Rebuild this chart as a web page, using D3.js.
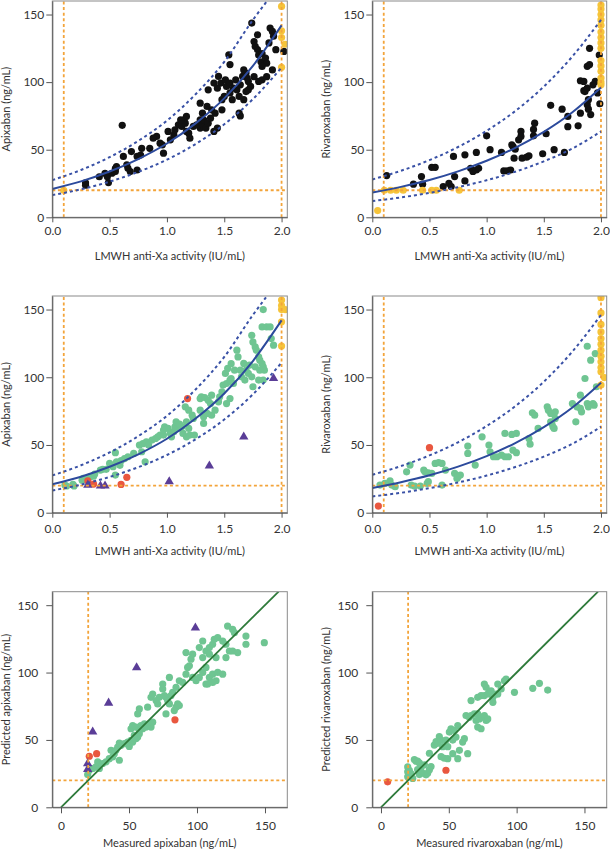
<!DOCTYPE html>
<html><head><meta charset="utf-8">
<script src="https://cdn.jsdelivr.net/npm/d3@7"></script>
<style>body{margin:0;background:#fff}svg{display:block}text{font-family:Lato,'Noto Sans',sans-serif;fill:#333}</style>
</head><body><svg id="c" width="610" height="853"></svg>
<script>
// ---------- DATA ----------
const lmwhTicks = [0, 0.5, 1.0, 1.5, 2.0];
const concTicks = [0, 50, 100, 150];
const thresholdConc = 20;        // ng/mL horizontal dashed line
const lmwhLimits = [0.1, 2.0];   // IU/mL vertical dashed lines

// fitted curves
const fitX = [0, 0.25, 0.5, 0.75, 1.0, 1.25, 1.5, 1.75, 2.0];
const apixFit = [21, 26.6, 33.9, 43.1, 54.6, 69.5, 88, 112, 142];
const apixUpperX = [0, 0.25, 0.5, 0.75, 1.0, 1.25, 1.5, 1.75, 1.9];
const apixUpper = [27.5, 35, 44.5, 56.5, 71.5, 91, 115, 146, 163];
const apixLower = [16.4, 20.7, 26.4, 33.6, 42.6, 54.2, 68.8, 87.4, 110.8];
const rivaFit = [18.3, 22.5, 27.6, 34.0, 41.8, 51.4, 63.2, 77.7, 96];
const rivaUpper = [28, 34.4, 42.3, 52, 64, 78.6, 96.7, 119, 146];
const rivaLower = [12, 14.7, 18.1, 22.3, 27.4, 33.7, 41.4, 50.9, 63.5];

// Panel A: apixaban vs LMWH anti-Xa (derivation)
const apixDerivPts = [[0.29,25.4],[0.29,23.7],[0.41,30],[0.46,32.6],[0.48,30],[0.49,25.7],[0.52,32.6],[0.55,36],[0.56,37.5],[0.55,33.8],[0.61,68],[0.62,45],[0.65,38.8],[0.66,36.3],[0.68,33.8],[0.74,35],[0.69,48.6],[0.74,45],[0.78,51],[0.77,46],[0.85,51],[0.91,59.8],[0.94,54.8],[0.88,58.5],[0.97,47.4],[0.96,53.6],[1.01,63.5],[1.03,57.3],[1.06,61],[1.07,64.7],[1.10,68.4],[1.13,67.2],[1.15,72],[1.16,69.6],[1.17,63.5],[1.19,62.2],[1.20,58.5],[1.23,67.2],[1.26,68.4],[1.29,66],[1.29,72],[1.31,68.4],[1.29,84.4],[1.31,77],[1.32,72],[1.34,66],[1.36,69.6],[1.38,73.3],[1.41,63.5],[1.42,77],[1.44,66],[1.36,94.3],[1.41,99.3],[1.44,95.5],[1.47,99.3],[1.48,87],[1.48,79.5],[1.50,89.4],[1.51,101.7],[1.52,96.8],[1.55,99.3],[1.55,92],[1.57,87],[1.58,95.5],[1.54,120.2],[1.60,101.7],[1.61,94.3],[1.63,89.4],[1.64,98],[1.66,104.2],[1.67,87],[1.69,93],[1.63,77],[1.64,75],[1.67,109],[1.69,106.7],[1.70,103],[1.71,100.5],[1.73,96.8],[1.71,94.3],[1.74,143.7],[1.76,130],[1.77,126.4],[1.79,124],[1.80,120],[1.82,115],[1.79,135],[1.83,121],[1.86,117.8],[1.87,114],[1.89,129],[1.90,140],[1.92,137.5],[1.93,134],[1.92,109],[1.95,124],[2.02,122.7],[1.83,101.7],[1.87,104],[1.83,111.6],[1.76,104],[1.80,100.5],[1.35,82],[1.39,79.5],[1.17,74.6],[1.12,72],[1.45,104.2],[1.55,113]];
const apixDerivCensored = [[2.0,156],[2.0,138],[2.0,133],[2.03,128],[2.0,111],[0.1,20]];

// Panel B: rivaroxaban vs LMWH anti-Xa (derivation)
const rivaDerivPts = [[0.126,30.9],[0.36,24.5],[0.43,30.1],[0.44,24.5],[0.52,37],[0.55,37],[0.62,22.7],[0.67,25.2],[0.69,22.7],[0.71,45],[0.72,30.1],[0.81,46.2],[0.81,26.9],[0.86,36.3],[0.88,33.9],[0.91,35],[0.93,36.3],[0.91,48],[1.0,60.3],[1.03,50],[1.13,48],[1.15,34.3],[1.18,34.3],[1.21,35],[1.22,53.6],[1.23,52.4],[1.24,43.7],[1.25,50.4],[1.28,57.3],[1.30,63.5],[1.30,59.8],[1.31,43.7],[1.35,44.5],[1.37,45.5],[1.41,65],[1.42,69.6],[1.41,60.3],[1.49,47],[1.56,82.8],[1.52,61.8],[1.59,50],[1.66,80],[1.68,48],[1.71,67],[1.71,74.6],[1.80,67.7],[1.82,77],[1.82,101],[1.85,100.5],[1.86,93],[1.85,93.7],[1.88,95.6],[1.88,111.7],[1.90,113],[1.90,125],[1.88,83.3],[1.89,80],[1.89,87],[1.91,76],[1.93,98],[1.95,100.5],[1.97,92],[1.985,120],[1.99,84]];
const rivaDerivCensored = [[0.047,5],[0.105,20],[0.16,20],[0.21,20],[0.27,20],[0.44,20],[0.52,20],[0.56,20],[0.76,20],[2.0,157],[2.0,154],[2.0,150],[2.0,146],[2.0,142],[2.0,137],[2.0,133],[2.0,129],[2.0,125],[2.0,116],[2.0,112],[2.0,108],[2.0,103],[2.0,100],[2.0,98]];

// Panel C: apixaban vs LMWH anti-Xa (validation)
const apixValidPts = [[0.11,20.4],[0.125,19.7],[0.18,21],[0.19,19.7],[0.26,24],[0.27,25.3],[0.30,24.6],[0.33,26.6],[0.36,27],[0.37,28.5],[0.42,31.5],[0.44,32],[0.47,32],[0.50,36.4],[0.53,34],[0.55,44.3],[0.56,37.6],[0.59,35],[0.60,38.4],[0.63,40],[0.66,41.3],[0.55,27.8],[0.71,43.8],[0.76,49.9],[0.79,51],[0.78,45],[0.82,52.4],[0.84,50],[0.81,37.6],[0.87,53.6],[0.90,54.8],[0.92,56],[0.94,57.3],[0.97,57.3],[0.97,61],[0.98,63.4],[1.01,62.2],[1.03,58.5],[1.04,56],[1.06,59.8],[1.07,63.4],[1.08,67],[1.10,62.2],[1.11,65.4],[1.13,63.4],[1.14,58.5],[1.17,67],[1.17,56],[1.19,62.2],[1.16,78.2],[1.19,75.7],[1.22,72],[1.23,69.6],[1.20,57.3],[1.24,57.3],[1.29,84.3],[1.30,85.6],[1.33,85],[1.36,83],[1.39,86.8],[1.29,75.7],[1.32,70.8],[1.35,73.3],[1.38,80.6],[1.39,72],[1.42,75.7],[1.32,65.9],[1.45,81.9],[1.46,85.6],[1.48,89.3],[1.49,94.2],[1.51,102.8],[1.52,95.4],[1.53,106.5],[1.55,97.9],[1.56,99.1],[1.58,95.4],[1.56,110],[1.59,105.2],[1.61,120],[1.52,80.6],[1.55,84.3],[1.62,115],[1.64,105.2],[1.65,100.3],[1.67,110.2],[1.68,97.9],[1.69,105.2],[1.71,102.8],[1.72,108.9],[1.74,100.3],[1.74,131],[1.75,126],[1.77,122.4],[1.78,120],[1.80,115],[1.81,112.6],[1.83,110],[1.84,107.7],[1.85,105.2],[1.84,150],[1.83,137.2],[1.87,137.2],[1.90,137.2],[1.91,128.6],[1.93,123.7],[1.75,93],[1.80,97.9],[1.84,97.9],[1.77,107.7],[1.81,105.2]];
const apixValidRed = [[0.31,23.6],[0.36,21.1],[0.60,20.9],[0.65,26.1],[1.18,84.3]];
const apixValidTri = [[0.31,21.1],[0.42,20.4],[0.46,20.4],[1.02,23.6],[1.37,35.2],[1.67,56.6],[1.93,99.8]];
const apixValidCensored = [[2.0,157],[2.0,153],[2.03,150],[2.0,150],[2.0,141],[2.0,123]];

// Panel D: rivaroxaban vs LMWH anti-Xa (validation)
const rivaValidPts = [[0.067,20.4],[0.11,21.6],[0.155,23.6],[0.17,20.4],[0.20,19.2],[0.30,30.2],[0.33,35.2],[0.34,20.4],[0.37,19.7],[0.42,19.7],[0.45,31.5],[0.46,30.2],[0.48,21.6],[0.49,29.5],[0.49,22.9],[0.52,29],[0.55,36.4],[0.58,36.9],[0.61,36.4],[0.61,20.4],[0.64,31.5],[0.72,29],[0.74,25.3],[0.75,26.6],[0.77,27.8],[0.835,49.2],[0.835,43.8],[0.90,35.2],[0.96,56],[1.02,49.9],[1.03,45],[1.06,41.3],[1.09,41.3],[1.13,42.5],[1.16,41.3],[1.19,41.3],[1.16,58.5],[1.22,57.8],[1.26,58.5],[1.23,46.2],[1.26,44.3],[1.37,54.8],[1.38,50.6],[1.40,73.8],[1.42,72],[1.45,62.2],[1.53,78.2],[1.54,75.7],[1.56,73.3],[1.57,73.3],[1.56,67.1],[1.57,65.9],[1.58,63.4],[1.59,62.2],[1.60,69.6],[1.60,74.5],[1.75,80.6],[1.78,67.1],[1.79,78.2],[1.82,77],[1.83,74.5],[1.82,86.8],[1.86,99.1],[1.88,80.6],[1.89,78.2],[1.91,112.6],[1.88,122.9],[1.93,80.6],[1.94,79.4],[1.96,93],[1.95,117.5]];
const rivaValidRed = [[0.053,4.9],[0.50,48]];
const rivaValidCensored = [[2.0,158.8],[2.0,147.5],[2.0,139],[2.0,133.5],[2.0,128.6],[2.0,124.4],[2.0,120],[2.0,115.6],[2.0,111.4],[2.0,107.2],[2.0,104],[2.03,99.8],[2.0,94.2]];

// Panel E: predicted vs measured apixaban
const apixPredPts = [[19.6,24.3],[20.8,27.5],[23.3,28.8],[25.7,30],[28.2,28.8],[27,33.7],[30.6,32.5],[33.1,33.7],[35.5,36.1],[38,37.4],[39.2,39.8],[36.8,42.3],[40.4,42.3],[41.7,44.7],[42.9,34.9],[44.1,46],[46.6,47.2],[49,48.4],[51.5,49.7],[52.7,48.4],[55.1,50.9],[56.4,52.1],[57.6,54.6],[53.9,53.4],[50.2,45.2],[42.9,47.7],[51.5,58.3],[52.7,60.7],[55.1,59.5],[57.6,57],[58.8,60.7],[60,58.3],[61.3,62],[62.5,59.5],[65,62],[66.2,59.5],[67.4,63.2],[56.4,69.3],[57.6,73],[63.7,74.3],[66.2,81.6],[67.4,84.1],[69.9,79.2],[71.1,76.7],[72.3,81.6],[74.8,87.8],[76,82.9],[77.2,81.6],[78.4,79.2],[79.7,76.7],[80.9,82.9],[82.1,85.3],[84.6,74.3],[83.3,71.8],[85.8,76.7],[87,75.5],[79.7,96.4],[77.2,69.3],[74.8,91.5],[84.6,89],[87,93.9],[89.5,92.7],[91.9,98.8],[93.1,103.8],[94.4,105],[95.6,109.9],[96.8,96.4],[99.3,93.9],[101.7,96.4],[104.2,100.1],[106.6,103.8],[106.6,91.5],[109.1,96.4],[111.5,98.8],[114,93.9],[115.2,100.1],[91.9,114.8],[96.8,113.6],[101.7,118.5],[104.2,123.4],[106.6,116],[109.1,118.5],[111.5,121],[112.7,124.7],[115.2,125.9],[118.9,123.4],[121.3,121],[123.8,116],[104.2,111.1],[109.1,113.6],[114,111.1],[121.3,111.1],[126.2,116],[129.9,114.8],[111.5,92.7],[107.8,91.5],[118.9,98.8],[122.5,134.5],[126.2,132],[127.5,129.6],[136,127.1],[136,121],[149.5,122.2]];
const apixPredRed = [[20.8,37.9],[26.2,39.8],[83.8,64.9]];
const apixPredTri = [[19.6,28.8],[19.6,33],[23.3,56.6],[35,78],[55.6,104.3],[98.8,133.8]];

// Panel F: predicted vs measured rivaroxaban
const rivaPredPts = [[19.7,30],[19.7,26.3],[19.7,22.6],[22.1,25.1],[20.9,27.5],[23.4,21.4],[24.6,35.4],[25.8,34.2],[27,34.2],[28.3,32.9],[29.5,29.3],[28.3,24.3],[27,28],[30.7,25.3],[32,31.5],[33.2,24.1],[34.4,25.3],[35.7,27.8],[36.9,30.2],[35.7,40.1],[39.3,46.2],[40.6,48.7],[41.8,47.5],[43,52.4],[44.3,49.9],[45.5,45],[44.3,37.6],[46.7,36.4],[47.9,49.9],[49.2,45],[50.4,55.8],[51.6,58.3],[52.9,49.9],[54.1,57],[55.3,52.1],[56.6,60.7],[57.8,42.3],[60.2,48.4],[61.5,50.9],[52.9,39.8],[49.2,36.1],[56.6,36.1],[62.7,68.1],[65.1,66.9],[66.4,68.1],[68.8,69.3],[71.3,69.3],[72.5,65.6],[73.8,66.9],[76.2,68.1],[77.5,64.4],[78.7,65.6],[63.9,39.8],[66.4,79.2],[70.1,64.4],[71.3,59.5],[73.8,58.3],[71.3,81.6],[73.8,82.9],[76.2,82.9],[77.5,89],[78.7,84.1],[80,85.3],[81.2,86.5],[82.5,81.6],[82.5,77.9],[84.9,84.1],[86.1,91.5],[88.6,87.8],[91,93.9],[92.2,95.1],[98.4,85.3],[111.9,88.3],[116.8,92],[122.9,87],[76.2,91.5],[86.1,84.1]];
const rivaPredRed = [[4.9,18.9],[47.9,27.5]];

// ---------- STYLE / LAYOUT ----------
const C = {black:'#111111', gold:'#f6c43a', green:'#6fc592', red:'#e9573f', purple:'#5a3d97',
           orange:'#f3a43a', blue:'#2c4a9c', blueDot:'#3951a6', diag:'#2e7a3a'};
const cols = [{left:52.3, right:287.3}, {left:372.3, right:606.7}];
const rows = [{top:1, bottom:217.3, tickY:231, titleY:260},
              {top:296, bottom:512.7, tickY:529, titleY:554.5},
              {top:591.7, bottom:807.3, tickY:826, titleY:847}];

const lmwhX = 'LMWH anti-Xa activity (IU/mL)';
const panels = [
  {col:0,row:0,type:'lmwh',ylab:'Apixaban (ng/mL)',fit:'apix',
   circles:[[apixDerivPts,C.black],[apixDerivCensored,C.gold]]},
  {col:1,row:0,type:'lmwh',ylab:'Rivaroxaban (ng/mL)',fit:'riva',
   circles:[[rivaDerivPts,C.black],[rivaDerivCensored,C.gold]]},
  {col:0,row:1,type:'lmwh',ylab:'Apixaban (ng/mL)',fit:'apix',
   circles:[[apixValidPts,C.green],[apixValidRed,C.red],[apixValidCensored,C.gold]], tris:apixValidTri},
  {col:1,row:1,type:'lmwh',ylab:'Rivaroxaban (ng/mL)',fit:'riva',
   circles:[[rivaValidPts,C.green],[rivaValidRed,C.red],[rivaValidCensored,C.gold]]},
  {col:0,row:2,type:'pred',ylab:'Predicted apixaban (ng/mL)',xlab:'Measured apixaban (ng/mL)',
   circles:[[apixPredPts,C.green],[apixPredRed,C.red]], tris:apixPredTri},
  {col:1,row:2,type:'pred',ylab:'Predicted rivaroxaban (ng/mL)',xlab:'Measured rivaroxaban (ng/mL)',
   circles:[[rivaPredPts,C.green],[rivaPredRed,C.red]]}
];

const svg = d3.select('#c');
const defs = svg.append('defs');

panels.forEach((p,i) => {
  const c = cols[p.col], r = rows[p.row];
  const x = d3.scaleLinear().domain(p.type==='lmwh' ? [0,2.05] : [-6.4,166.4]).range([c.left,c.right]);
  const y = d3.scaleLinear().domain([0,160]).range([r.bottom,r.top]);
  const g = svg.append('g');
  defs.append('clipPath').attr('id','cp'+i).append('rect')
    .attr('x',c.left).attr('y',r.top).attr('width',c.right-c.left).attr('height',r.bottom-r.top);
  const pg = g.append('g').attr('clip-path',`url(#cp${i})`);

  // points
  p.circles.forEach(([data,col]) => {
    pg.selectAll(null).data(data).enter().append('circle')
      .attr('cx',d=>x(d[0])).attr('cy',d=>y(d[1])).attr('r',3.6).attr('fill',col);
  });
  if (p.tris) {
    pg.selectAll(null).data(p.tris).enter().append('path')
      .attr('d', d3.symbol(d3.symbolTriangle, 38)())
      .attr('transform', d=>`translate(${x(d[0])},${y(d[1])+0.8})`).attr('fill',C.purple);
  }

  // reference lines
  const [x0,x1] = x.domain();
  const dashO = '3,2.6';
  pg.append('line').attr('x1',x(x0)).attr('x2',x(x1)).attr('y1',y(thresholdConc)).attr('y2',y(thresholdConc))
    .attr('stroke',C.orange).attr('stroke-width',1.8).attr('stroke-dasharray',dashO);
  const vlines = p.type==='lmwh' ? lmwhLimits : [thresholdConc];
  vlines.forEach(v => pg.append('line').attr('x1',x(v)).attr('x2',x(v)).attr('y1',y(0)).attr('y2',y(160))
    .attr('stroke',C.orange).attr('stroke-width',1.8).attr('stroke-dasharray',dashO));

  const line = d3.line().x(d=>x(d[0])).y(d=>y(d[1])).curve(d3.curveMonotoneX);
  if (p.type==='lmwh') {
    const fit = p.fit==='apix' ? apixFit : rivaFit;
    const up = p.fit==='apix' ? apixUpper : rivaUpper;
    const upX = p.fit==='apix' ? apixUpperX : fitX;
    const lo = p.fit==='apix' ? apixLower : rivaLower;
    [[upX,up],[fitX,lo]].forEach(([xs,ys]) => pg.append('path')
      .attr('d', line(xs.map((v,k)=>[v,ys[k]]))).attr('fill','none')
      .attr('stroke',C.blueDot).attr('stroke-width',2).attr('stroke-dasharray','3,3'));
    pg.append('path').attr('d', line(fitX.map((v,k)=>[v,fit[k]]))).attr('fill','none')
      .attr('stroke',C.blue).attr('stroke-width',2);
  } else {
    pg.append('line').attr('x1',x(0)).attr('y1',y(0)).attr('x2',x(160)).attr('y2',y(160))
      .attr('stroke',C.diag).attr('stroke-width',1.8);
  }

  // frame
  g.append('rect').attr('x',c.left).attr('y',r.top).attr('width',c.right-c.left).attr('height',r.bottom-r.top)
    .attr('fill','none').attr('stroke','#8a8a8a').attr('stroke-width',1);

  // axes
  const yAx = g.append('g').attr('transform',`translate(${c.left},0)`)
    .call(d3.axisLeft(y).tickValues(concTicks).tickSize(6).tickSizeOuter(0).tickPadding(p.row===2?8:2));
  const xAx = g.append('g').attr('transform',`translate(0,${r.bottom})`)
    .call(p.type==='lmwh'
      ? d3.axisBottom(x).tickValues(lmwhTicks).tickFormat(d3.format('.1f')).tickSize(5).tickSizeOuter(0)
      : d3.axisBottom(x).tickValues(concTicks).tickSize(6).tickSizeOuter(0));
  [yAx,xAx].forEach(a => {
    a.select('.domain').attr('stroke','#555');
    a.selectAll('.tick line').attr('stroke','#555');
    a.selectAll('.tick text').attr('font-size',12).attr('fill','#444').style('font-family','Lato, sans-serif');
  });
  xAx.selectAll('.tick text').attr('y', r.tickY - r.bottom).attr('dy','0.35em');

  // titles
  g.append('text').attr('x',(c.left+c.right)/2).attr('y',r.titleY).attr('text-anchor','middle')
    .attr('font-size',11).text(p.type==='lmwh'?lmwhX:p.xlab);
  g.append('text').attr('transform',`translate(${c.left-42},${(r.top+r.bottom)/2}) rotate(-90)`)
    .attr('text-anchor','middle').attr('font-size',11).text(p.ylab);
});
</script></body></html>
